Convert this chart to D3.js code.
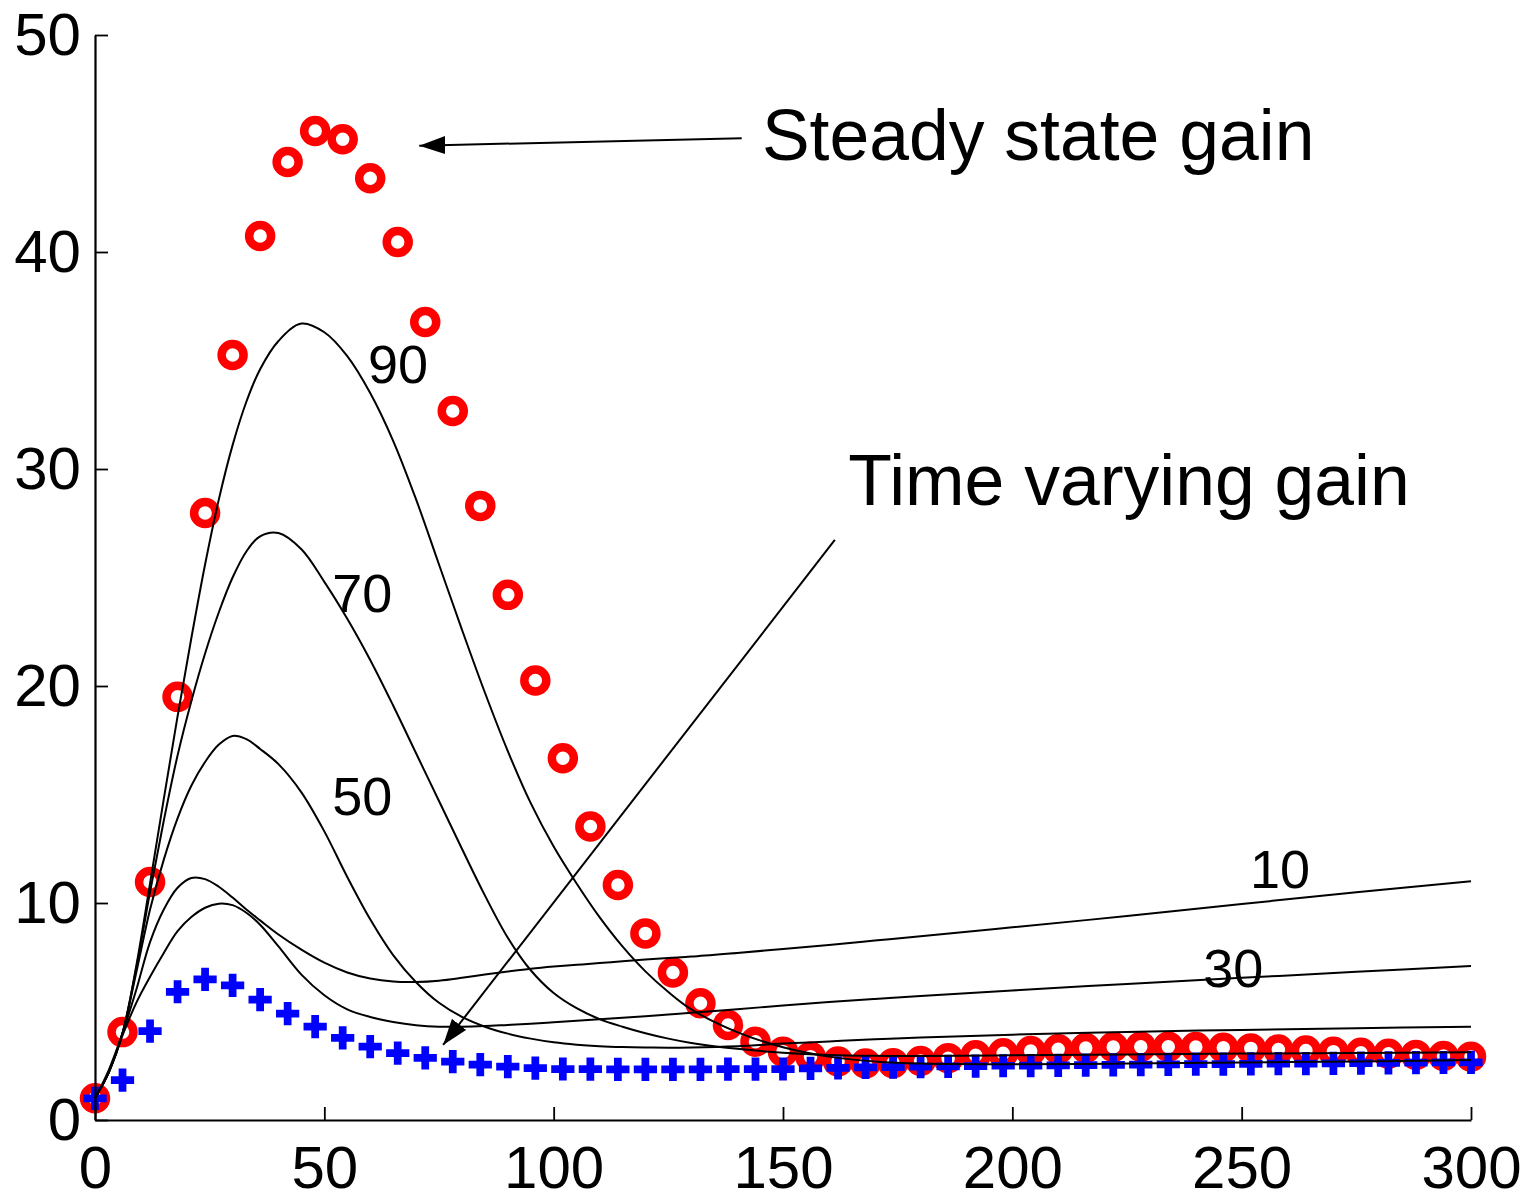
<!DOCTYPE html>
<html>
<head>
<meta charset="utf-8">
<script src="https://cdn.jsdelivr.net/npm/d3@7"></script>
<style>
  body { margin: 0; background: #ffffff; }
  text { font-family: "Liberation Sans", Arial, Helvetica, sans-serif; fill: #000; }
</style>
</head>
<body>
<svg id="chart" width="1529" height="1195"></svg>
<script>
// ---- data -------------------------------------------------------------
// sample times of the marker series
const markerTimes = [0, 6, 12, 18, 24, 30, 36, 42, 48, 54, 60, 66, 72, 78, 84, 90, 96, 102,
  108, 114, 120, 126, 132, 138, 144, 150, 156, 162, 168, 174, 180, 186, 192, 198, 204, 210,
  216, 222, 228, 234, 240, 246, 252, 258, 264, 270, 276, 282, 288, 294, 300];

// steady state gain (red circles)
const steadyGain = [1.0, 4.05, 10.97, 19.5, 27.97, 35.25, 40.74, 44.15, 45.58, 45.2, 43.4, 40.46,
  36.77, 32.67, 28.3, 24.2, 20.25, 16.67, 13.53, 10.83, 8.6, 6.8, 5.38, 4.38, 3.61, 3.15, 2.92,
  2.7, 2.6, 2.62, 2.72, 2.85, 2.98, 3.08, 3.18, 3.26, 3.32, 3.36, 3.38, 3.38, 3.36, 3.33, 3.3,
  3.25, 3.2, 3.15, 3.1, 3.05, 3.0, 2.95, 2.92];

// time varying gain (blue crosses)
const timeVaryingGain = [1.0, 1.84, 4.1, 5.91, 6.48, 6.2, 5.55, 4.9, 4.3, 3.78, 3.38, 3.08, 2.86,
  2.69, 2.55, 2.46, 2.39, 2.35, 2.34, 2.33, 2.33, 2.33, 2.33, 2.34, 2.34, 2.35, 2.38, 2.4, 2.42,
  2.44, 2.46, 2.47, 2.48, 2.5, 2.51, 2.52, 2.53, 2.54, 2.55, 2.56, 2.57, 2.58, 2.59, 2.6, 2.6,
  2.61, 2.62, 2.63, 2.64, 2.65, 2.66];

// common time grid for the solid curves
const curveTimes = [0, 3, 6, 9, 12, 15, 18, 21, 24, 27, 30, 33, 36, 40, 45, 50, 55, 60, 65, 70,
  75, 80, 85, 90, 95, 100, 105, 110, 115, 120, 125, 130, 140, 150, 160, 170, 180, 200, 225, 250,
  275, 300];

const curve10 = [1.0, 2.3, 4.0, 6.0, 8.2, 9.7, 10.7, 11.15, 11.1, 10.75, 10.25, 9.7, 9.2, 8.55,
  7.85, 7.25, 6.8, 6.52, 6.38, 6.36, 6.42, 6.55, 6.7, 6.84, 6.97, 7.07, 7.15, 7.23, 7.32, 7.4,
  7.47, 7.53, 7.7, 7.88, 8.07, 8.27, 8.47, 8.88, 9.4, 9.95, 10.5, 11.0];

const curve30 = [1.0, 2.2, 3.9, 5.4, 6.6, 7.7, 8.7, 9.35, 9.78, 9.97, 9.9, 9.55, 9.0, 8.0, 6.7,
  5.75, 5.1, 4.75, 4.52, 4.37, 4.3, 4.3, 4.33, 4.38, 4.43, 4.5, 4.57, 4.64, 4.71, 4.78, 4.86,
  4.94, 5.1, 5.28, 5.44, 5.58, 5.71, 5.97, 6.27, 6.55, 6.83, 7.1];

const curve50 = [1.0, 2.2, 4.0, 6.8, 9.7, 12.0, 13.9, 15.4, 16.5, 17.3, 17.7, 17.55, 17.1, 16.4,
  15.1, 13.3, 11.2, 9.25, 7.6, 6.35, 5.4, 4.75, 4.3, 3.98, 3.75, 3.58, 3.47, 3.4, 3.36, 3.34, 3.33,
  3.34, 3.4, 3.52, 3.62, 3.72, 3.8, 3.93, 4.06, 4.15, 4.23, 4.3];

const curve70 = [1.0, 2.2, 4.0, 7.0, 10.5, 13.8, 16.8, 19.3, 21.5, 23.4, 25.0, 26.2, 26.9, 27.05,
  26.3, 24.8, 23.1, 21.2, 19.1, 16.9, 14.7, 12.5, 10.35, 8.4, 6.9, 5.85, 5.15, 4.65, 4.3, 4.0,
  3.75, 3.55, 3.28, 3.1, 3.0, 2.96, 2.95, 2.98, 3.02, 3.06, 3.09, 3.12];

const curve90 = [1.0, 2.2, 4.0, 7.1, 10.9, 14.8, 18.6, 22.2, 25.6, 28.6, 31.1, 33.1, 34.6, 35.9,
  36.7, 36.3, 35.2, 33.5, 31.3, 28.6, 25.6, 22.6, 19.7, 17.0, 14.6, 12.6, 10.9, 9.35, 8.0, 6.85,
  5.9, 5.1, 4.05, 3.35, 2.92, 2.7, 2.6, 2.57, 2.6, 2.65, 2.7, 2.76];

const curveNames = ["10", "30", "50", "70", "90"];
const curveSeries = [curve10, curve30, curve50, curve70, curve90];

const xTicks = [0, 50, 100, 150, 200, 250, 300];
const yTicks = [0, 10, 20, 30, 40, 50];

// ---- layout -----------------------------------------------------------
const svg = d3.select("#chart");
const x = d3.scaleLinear().domain([0, 300]).range([95, 1471]);
const y = d3.scaleLinear().domain([0, 50]).range([1120, 35]);

// ---- markers: red circles, then blue crosses ---------------------------
svg.append("g")
  .selectAll("circle")
  .data(markerTimes.map((t, i) => [t, steadyGain[i]]))
  .join("circle")
  .attr("cx", d => x(d[0]))
  .attr("cy", d => y(d[1]))
  .attr("r", 11)
  .attr("fill", "none")
  .attr("stroke", "#ff0000")
  .attr("stroke-width", 8.5);

const cross = d3.symbol(d3.symbolCross, 300);
svg.append("g")
  .selectAll("path")
  .data(markerTimes.map((t, i) => [t, timeVaryingGain[i]]))
  .join("path")
  .attr("transform", d => `translate(${x(d[0])},${y(d[1])})`)
  .attr("d", cross)
  .attr("fill", "#0000ff");

// ---- solid curves -----------------------------------------------------
const line = d3.line()
  .x(d => x(d[0]))
  .y(d => y(d[1]))
  .curve(d3.curveCatmullRom.alpha(0.5));

svg.append("g")
  .selectAll("path")
  .data(curveSeries.map(vals => curveTimes.map((t, i) => [t, vals[i]])))
  .join("path")
  .attr("d", line)
  .attr("fill", "none")
  .attr("stroke", "#000")
  .attr("stroke-width", 2);

// curve labels, anchored in data units
const curveLabelPos = {
  "10": [251.8, 10.69],
  "30": [241.6, 6.13],
  "50": [51.7, 14.06],
  "70": [51.7, 23.42],
  "90": [59.5, 33.96]
};
svg.append("g")
  .selectAll("text")
  .data(curveNames)
  .join("text")
  .attr("x", d => x(curveLabelPos[d][0]))
  .attr("y", d => y(curveLabelPos[d][1]))
  .attr("font-size", 54)
  .text(d => d);

// ---- axes -------------------------------------------------------------
const yAxis = d3.axisLeft(y).tickValues(yTicks).tickSizeInner(-13).tickSizeOuter(0).tickPadding(14);
const xAxis = d3.axisBottom(x).tickValues(xTicks).tickSizeInner(-13).tickSizeOuter(0).tickPadding(25);

const gy = svg.append("g").attr("transform", "translate(95,0)").call(yAxis);
const gx = svg.append("g").attr("transform", "translate(0,1120)").call(xAxis);

[gx, gy].forEach(g => {
  g.select(".domain").attr("stroke", "#000").attr("stroke-width", 2.2);
  g.selectAll(".tick line").attr("stroke", "#000").attr("stroke-width", 1.8);
  g.selectAll(".tick text")
    .attr("font-family", '"Liberation Sans", Arial, sans-serif')
    .attr("font-size", 60)
    .attr("fill", "#000");
});

// ---- annotations ------------------------------------------------------
const defs = svg.append("defs");
defs.append("marker")
  .attr("id", "head")
  .attr("viewBox", "0 0 26 18")
  .attr("refX", 26).attr("refY", 9)
  .attr("markerWidth", 26).attr("markerHeight", 18)
  .attr("markerUnits", "userSpaceOnUse")
  .attr("orient", "auto")
  .append("path")
  .attr("d", "M0,0L26,9L0,18Z")
  .attr("fill", "#000");

const annotations = [
  { text: "Steady state gain", tx: 145.4, ty: 44.24, from: [141.0, 45.24], to: [70.7, 44.9] },
  { text: "Time varying gain", tx: 164.2, ty: 28.34, from: [161.3, 26.73], to: [75.9, 3.46] }
];

const ann = svg.append("g");
ann.selectAll("line")
  .data(annotations)
  .join("line")
  .attr("x1", d => x(d.from[0]))
  .attr("y1", d => y(d.from[1]))
  .attr("x2", d => x(d.to[0]))
  .attr("y2", d => y(d.to[1]))
  .attr("stroke", "#000")
  .attr("stroke-width", 2)
  .attr("marker-end", "url(#head)");

ann.selectAll("text")
  .data(annotations)
  .join("text")
  .attr("x", d => x(d.tx))
  .attr("y", d => y(d.ty))
  .attr("font-size", 71.5)
  .text(d => d.text);
</script>
</body>
</html>
